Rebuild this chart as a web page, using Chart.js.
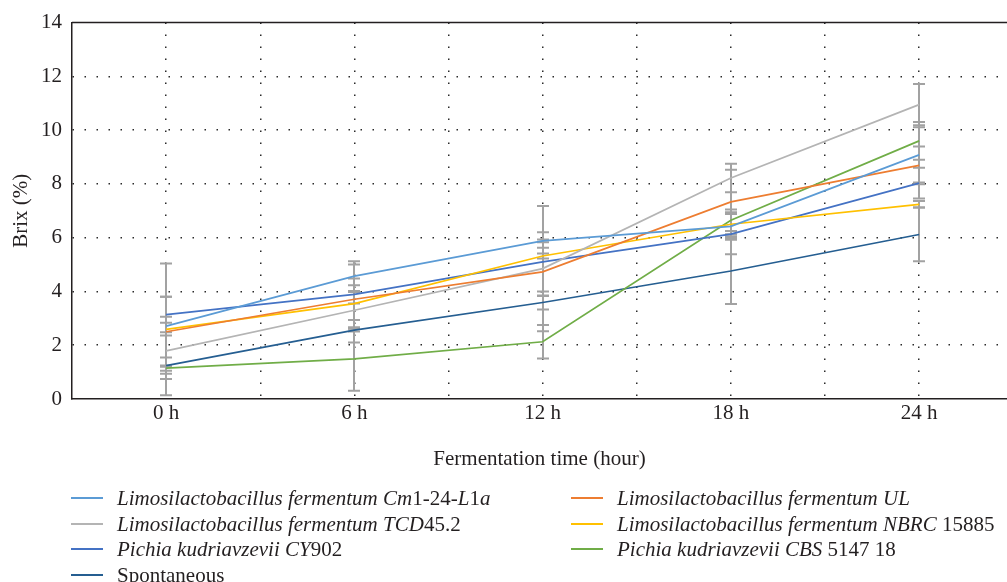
<!DOCTYPE html>
<html><head><meta charset="utf-8">
<script src="https://cdn.jsdelivr.net/npm/chart.js@4.4.0/dist/chart.umd.min.js"></script>
<style>
html,body{margin:0;padding:0;background:#fff;overflow:hidden}
#wrap{position:relative;width:1007px;height:582px}
#legend{position:absolute;left:0;top:0;width:1007px;height:582px;pointer-events:none;font-family:"Liberation Serif",serif;font-size:21px;color:#231f20}
.item{position:absolute;white-space:nowrap;height:24px;line-height:24px}
.swatch{position:absolute;left:0;top:11px;width:32px;height:2px}
.txt{position:absolute;left:46px;top:0}
</style></head>
<body><div id="wrap"><canvas id="c" width="1007" height="582"></canvas><div id="legend"></div></div>
<script>
const categories = ['0 h', '6 h', '12 h', '18 h', '24 h'];
const hours = [0, 6, 12, 18, 24];
const gridHours = [-3, 0, 3, 6, 9, 12, 15, 18, 21, 24];
const yTicks = [0, 2, 4, 6, 8, 10, 12, 14];

const seriesNames = [
  'Limosilactobacillus fermentum Cm1-24-L1a',
  'Limosilactobacillus fermentum UL',
  'Limosilactobacillus fermentum TCD45.2',
  'Limosilactobacillus fermentum NBRC 15885',
  'Pichia kudriavzevii CY902',
  'Pichia kudriavzevii CBS 5147 18',
  'Spontaneous'
];
const seriesItalic = [true, true, true, true, true, true, false];
const seriesColors = ['#5B9BD5', '#ED7D31', '#B4B4B4', '#FFC000', '#4472C4', '#70AD47', '#255E91'];

const cm1Values   = [2.71, 4.57, 5.88, 6.42, 9.08];
const ulValues    = [2.50, 3.71, 4.73, 7.33, 8.69];
const tcdValues   = [1.79, 3.30, 4.85, 8.22, 10.95];
const nbrcValues  = [2.59, 3.55, 5.32, 6.50, 7.24];
const cy902Values = [3.14, 3.89, 5.10, 6.13, 8.03];
const cbsValues   = [1.15, 1.49, 2.13, 6.65, 9.60];
const spontValues = [1.24, 2.56, 3.59, 4.76, 6.12];

const cm1Errors   = [0.35, 0.55, 0.05, 0.50, 1.03];
const ulErrors    = [1.30, 0.77, 0.90, 1.20, 0.70];
const tcdErrors   = [1.05, 0.68, 2.33, 0.53, 0.77];
const nbrcErrors  = [2.45, 1.45, 0.09, 0.45, 0.12];
const cy902Errors = [0.66, 0.34, 1.10, 0.75, 0.57];
const cbsErrors   = [0.10, 1.18, 0.62, 0.40, 0.70];
const spontErrors = [0.30, 0.05, 0.26, 1.23, 1.00];

const seriesValues = [cm1Values, ulValues, tcdValues, nbrcValues, cy902Values, cbsValues, spontValues];
const seriesErrors = [cm1Errors, ulErrors, tcdErrors, nbrcErrors, cy902Errors, cbsErrors, spontErrors];

const FONT = {family: '"Liberation Serif", serif', size: 21};
const TXT = '#231f20';

const errorBars = {
  id: 'errorBars',
  beforeDatasetsDraw(chart) {
    const {ctx, scales: {x, y}, chartArea} = chart;
    ctx.save();
    ctx.strokeStyle = '#231f20'; ctx.lineWidth = 1.5;
    ctx.beginPath(); ctx.moveTo(chartArea.left, chartArea.top); ctx.lineTo(chartArea.right, chartArea.top); ctx.stroke();
    ctx.strokeStyle = '#a2a2a2'; ctx.lineWidth = 2;
    seriesErrors.forEach((errs, i) => {
      errs.forEach((e, j) => {
        const px = Math.round(x.getPixelForValue(hours[j]));
        const v = seriesValues[i][j];
        const yt = y.getPixelForValue(v + e), yb = y.getPixelForValue(Math.max(0, v - e));
        ctx.beginPath();
        ctx.moveTo(px, yt); ctx.lineTo(px, yb);
        ctx.moveTo(px - 6, yt); ctx.lineTo(px + 6, yt);
        ctx.moveTo(px - 6, yb); ctx.lineTo(px + 6, yb);
        ctx.stroke();
      });
    });
    ctx.restore();
  }
};

const chart = new Chart(document.getElementById('c'), {
  type: 'line',
  data: {
    datasets: seriesNames.map((n, i) => ({
      label: n,
      data: hours.map((h, j) => ({x: h, y: seriesValues[i][j]})),
      borderColor: seriesColors[i],
      backgroundColor: seriesColors[i],
      borderWidth: 1.7,
      pointRadius: 0,
      tension: 0,
      fill: false
    }))
  },
  options: {
    responsive: false,
    animation: false,
    devicePixelRatio: 1,
    layout: {padding: {left: 0, right: 0, top: 22, bottom: 110}},
    plugins: {legend: {display: false}, tooltip: {enabled: false}},
    scales: {
      x: {
        type: 'linear', min: -3, max: 26.8,
        afterBuildTicks: s => { s.ticks = gridHours.map(v => ({value: v})); },
        afterFit: s => { s.height = 73; },
        ticks: {
          autoSkip: false, maxRotation: 0, padding: 2, font: FONT, color: TXT,
          callback: v => { const k = hours.indexOf(v); return k >= 0 ? categories[k] : ''; }
        },
        grid: {
          drawTicks: false, lineWidth: 1.5,
          color: c => (c.tick && c.tick.value === -3) ? 'rgba(0,0,0,0)' : '#2a2a2a'
        },
        border: {display: true, color: '#231f20', width: 1.5, dash: [1.5, 10.5]},
        title: {display: true, text: 'Fermentation time (hour)', font: FONT, color: TXT, padding: {top: 16, bottom: 0}}
      },
      y: {
        min: 0, max: 14,
        afterBuildTicks: s => { s.ticks = yTicks.map(v => ({value: v})); },
        afterFit: s => { s.width = 72; },
        ticks: {padding: 10, font: FONT, color: TXT},
        grid: {
          drawTicks: false, lineWidth: 1.5,
          color: c => (c.tick && (c.tick.value === 0 || c.tick.value === 14)) ? 'rgba(0,0,0,0)' : '#2a2a2a'
        },
        border: {display: true, color: '#231f20', width: 1.5, dash: [1.5, 10.5]},
        title: {display: true, text: 'Brix (%)', font: FONT, color: TXT, padding: {top: 9, bottom: 0}}
      }
    }
  },
  plugins: [errorBars]
});

function fmt(name, italic) {
  const esc = s => s.replace(/&/g, '&amp;').replace(/</g, '&lt;');
  if (!italic) return esc(name);
  return name.split(/([A-Za-z]+)/).map(p => /^[A-Za-z]+$/.test(p) ? '<i>' + esc(p) + '</i>' : esc(p)).join('');
}
const legendEl = document.getElementById('legend');
const colX = [71, 571];
const rowY = [486, 511.5, 537, 562.5];
chart.data.datasets.forEach((ds, i) => {
  const col = i % 2, row = Math.floor(i / 2);
  const div = document.createElement('div');
  div.className = 'item';
  div.style.left = colX[col] + 'px';
  div.style.top = rowY[row] + 'px';
  div.innerHTML = '<span class="swatch" style="background:' + ds.borderColor + '"></span><span class="txt">' + fmt(ds.label, seriesItalic[i]) + '</span>';
  legendEl.appendChild(div);
});
</script>
</body></html>
